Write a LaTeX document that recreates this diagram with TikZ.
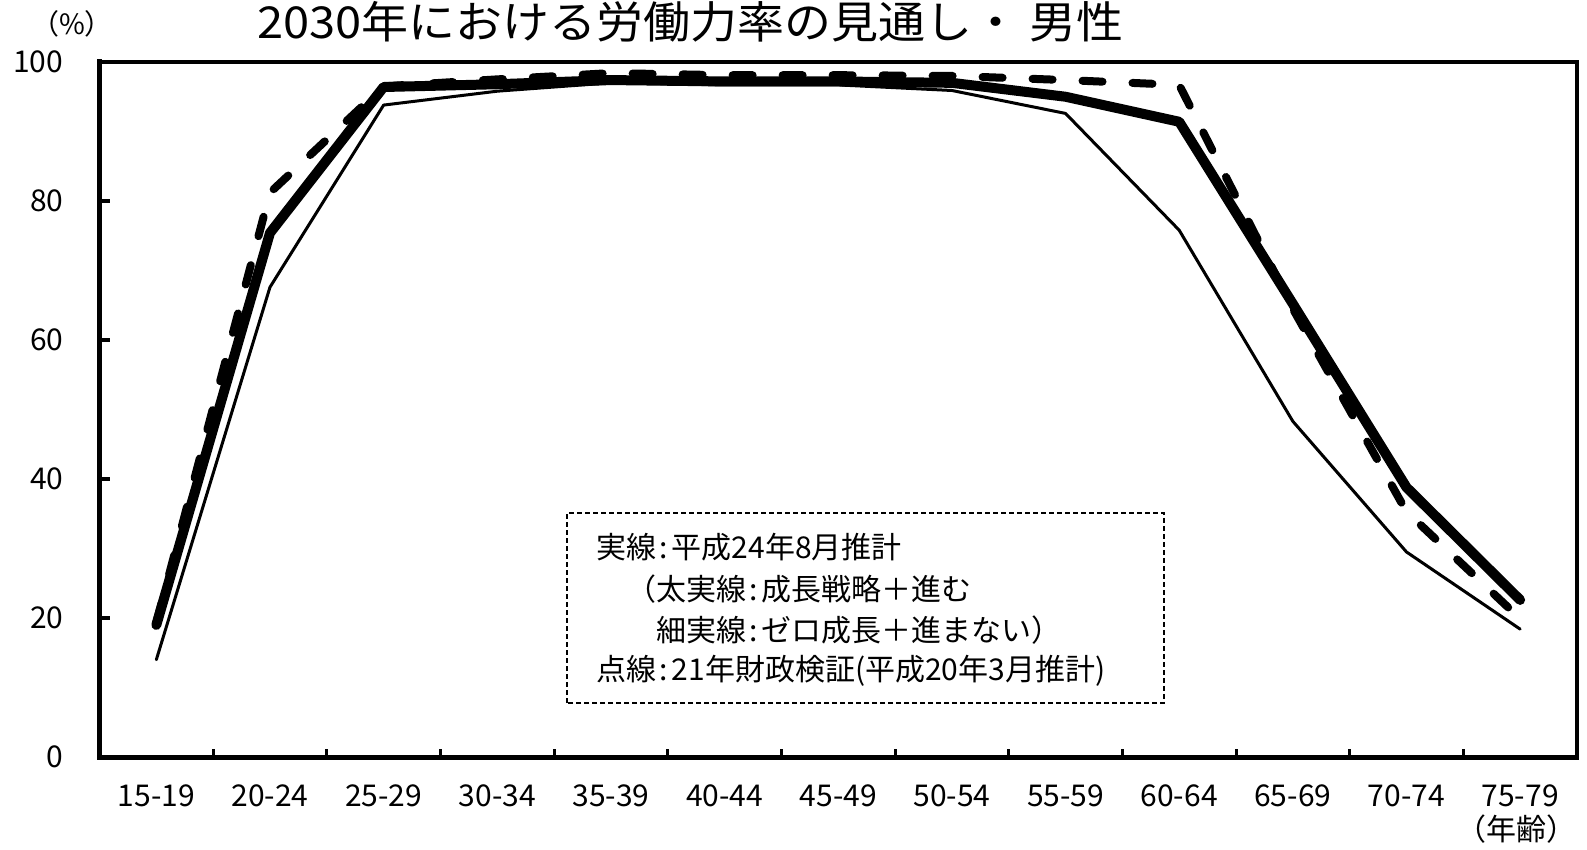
\documentclass[tikz,border=0pt]{standalone}
\usepackage{fontspec}
\setmainfont{Noto Sans CJK JP}
\newcommand{\charttitlefont}{\fontsize{44}{48}\selectfont}
\newcommand{\axisfont}{\fontsize{30}{34}\selectfont}
\newcommand{\legendfont}{\fontsize{30}{34}\selectfont}
\newcommand{\unitfont}{\fontsize{28}{30}\selectfont}
\newcommand{\colonsep}{\kern.12em:\kern.12em}

\begin{document}
\begin{tikzpicture}
  [x=1pt,y=1pt,every node/.style={inner sep=0pt,font=\axisfont},
   thinrun/.style={line width=3pt,line join=round,line cap=round},
   thickrun/.style={line width=10pt,line join=round,line cap=round},
   oldrun/.style={line width=8pt,line join=round,line cap=round,dash pattern=on 20pt off 30pt}]
  \useasboundingbox (0,0) rectangle (1587,849);

  \node[anchor=base west,font=\charttitlefont] (title) at (257,810) {\scalebox{1.068}[1]{2030年における労働力率の見通し・ 男性}};
  \node[font=\unitfont] (unit) at (72,825) {（\%）};
  \node[font=\legendfont] (age) at (1516,20) {（年齢）};

  \begin{scope}[shift={(99.5,92)},x=113.65pt,y=6.95pt]
    % frame and ticks
    \draw[line width=4pt] (0,0) rectangle (13,100);
    \draw[line width=5pt,line cap=rect] (0,100) -- (0,0) -- (13,0);
    \foreach \v in {20,40,60,80}
      \draw[line width=4pt] (0,\v) -- ++(0:10pt);
    \foreach \i in {1,...,12}
      \draw[line width=3pt] (\i,0) -- ++(90:8pt);
    \foreach \v in {0,20,40,60,80,100}
      \node[anchor=east,xshift=-36pt] (Y_\v) at (0,\v) {\v};
    \foreach \lab [count=\i from 0] in {15-19,20-24,25-29,30-34,35-39,40-44,45-49,50-54,55-59,60-64,65-69,70-74,75-79}
      \node[yshift=-39pt] (X_\i) at (\i+0.5,0) {\lab};

    % series
    \draw[thinrun] plot coordinates {(0.5,14.0) (1.5,67.6) (2.5,93.8) (3.5,95.8) (4.5,97.0) (5.5,96.7) (6.5,96.7) (7.5,95.9) (8.5,92.6) (9.5,75.8) (10.5,48.3) (11.5,29.5) (12.5,18.4)};
    \draw[thickrun] plot coordinates {(0.5,19.0) (1.5,75.4) (2.5,96.4) (3.5,96.8) (4.5,97.4) (5.5,97.2) (6.5,97.2) (7.5,97.0) (8.5,95.0) (9.5,91.4) (10.5,65.2) (11.5,38.8) (12.5,22.6)};
    \draw[oldrun] plot coordinates {(0.5,19.3) (1.5,81.2) (2.5,96.5) (3.5,97.5) (4.5,98.4) (5.5,98.1) (6.5,98.1) (7.5,98.0) (8.5,97.4) (9.5,96.7) (10.5,64.5) (11.5,35.3) (12.5,19.9)};
  \end{scope}

  % legend
  \draw[line width=2.5pt,dash pattern=on 5pt off 3pt] (567,146) rectangle (1164,336);
  \node[anchor=west,font=\legendfont] (leg_1) at (596,302) {実線\colonsep 平成24年8月推計};
  \node[anchor=west,font=\legendfont] (leg_2) at (596,260) {　（太実線\colonsep 成長戦略＋進む};
  \node[anchor=west,font=\legendfont] (leg_3) at (596,219) {　　細実線\colonsep ゼロ成長＋進まない）};
  \node[anchor=west,font=\legendfont] (leg_4) at (596,178) {点線\colonsep 21年財政検証(平成20年3月推計)};

\end{tikzpicture}
\end{document}
